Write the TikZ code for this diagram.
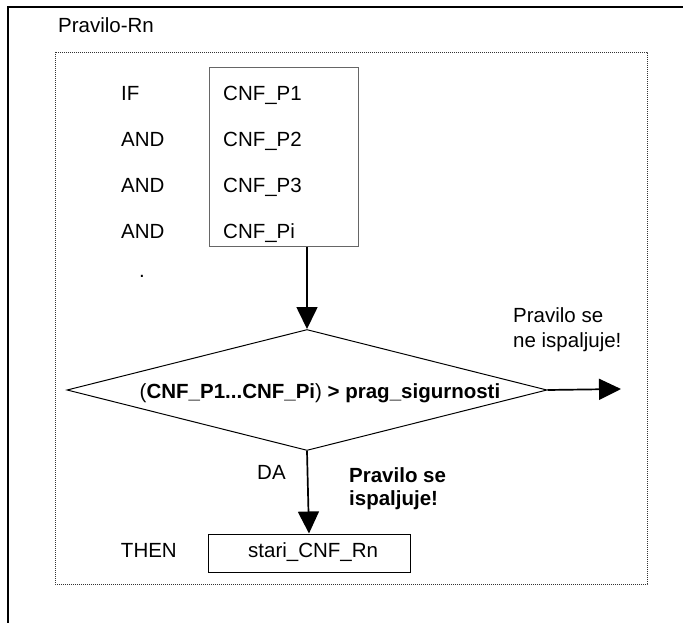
\documentclass[tikz,border=0pt]{standalone}
\usepackage{fontspec}
\setmainfont{Liberation Sans}
\usepackage{tikz}
\usetikzlibrary{shapes.geometric,arrows.meta}
\tikzset{
  txt/.style={inner sep=0pt,anchor=base west,font=\fontsize{20.5}{24}\selectfont},
  condbox/.style={draw=black!60,line width=1pt,inner sep=0pt},
  decision/.style={diamond,draw,line width=1pt,inner sep=0pt,minimum width=480pt,minimum height=121pt},
  flow/.style={->,line width=1.7pt}
}
\begin{document}
\begin{tikzpicture}[x=1pt,y=-1pt,>={Triangle[length=22pt,width=21pt]}]
      \useasboundingbox (0,0) rectangle (683,623);
      \draw [line width=2pt] (8,650) -- (8,7) -- (700,7);
      \node [txt] (title) at (58,33) {Pravilo-Rn};
      \draw [black!80,line width=0.8pt,dash pattern=on 1.2pt off 0.8pt] (55,52) rectangle (647,584);
      \node [condbox,minimum width=149pt,minimum height=178pt] (conds) at (283.5,157) {};
      \foreach \kw/\p [count=\i] in {IF/P1,AND/P2,AND/P3,AND/Pi}{
        \pgfmathsetmacro{\yy}{101+45.7*(\i-1)}
        \node [txt] (kw\i) at (121,\yy) {\kw};
        \node [txt] (p\i) at (223,\yy) {CNF\_\p};
      }
      \node [txt] (dot) at (139,277) {.};
      \node [decision] (cond) at (307,390) {};
      \node [txt,anchor=base] (condtxt) at (320,398) {(\textbf{CNF\_P1...CNF\_Pi}) \textbf{> prag\_sigurnosti}};
      \coordinate (out) at (621,389);
      \node [txt] (no1) at (513,322) {Pravilo se};
      \node [txt] (no2) at (513,347) {ne ispaljuje!};
      \node [txt] (da) at (257,479) {DA};
      \node [txt,font=\fontsize{20.5}{24}\selectfont\bfseries] (yes1) at (349,482) {Pravilo se};
      \node [txt,font=\fontsize{20.5}{24}\selectfont\bfseries] (yes2) at (349,505) {ispaljuje!};
      \node [draw,line width=1pt,minimum width=202pt,minimum height=38pt,inner sep=0pt] (res) at (309,553) {};
      \node [txt] (restxt) at (248,557) {stari\_CNF\_Rn};
      \node [txt,anchor=base east] (then) at (177,557) {THEN};
      \draw [flow] (conds.south -| cond.north) to (cond.north);
      \draw [flow] (cond.east) to (out);
      \draw [flow] (cond.south) to (res.north);
    \end{tikzpicture}
\end{document}
